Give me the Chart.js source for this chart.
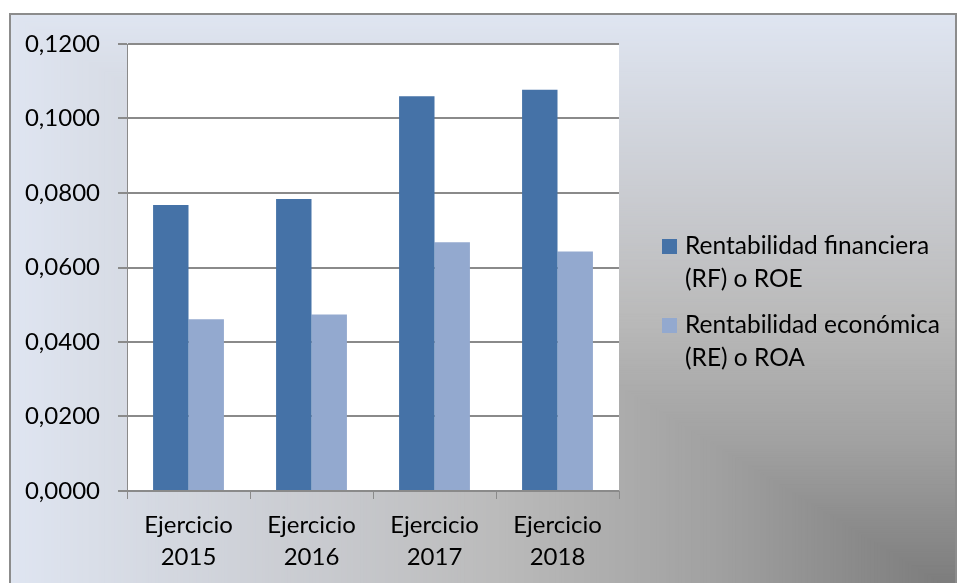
<!DOCTYPE html>
<html>
<head>
<meta charset="utf-8">
<script src="https://cdn.jsdelivr.net/npm/chart.js@4"></script>
<style>
html,body{margin:0;padding:0;background:#fff;}
#wrap{width:957px;height:583px;position:relative;}
</style>
</head>
<body>
<div id="wrap"><canvas id="c" width="957" height="583"></canvas></div>
<script>
const categories = [["Ejercicio","2015"],["Ejercicio","2016"],["Ejercicio","2017"],["Ejercicio","2018"]];
const seriesRF = [0.0768, 0.0784, 0.1060, 0.1077];
const seriesRE = [0.0461, 0.0474, 0.0668, 0.0643];
const seriesNames = [["Rentabilidad financiera","(RF) o ROE"],["Rentabilidad económica","(RE) o ROA"]];
const yTickLabels = ["0,0000","0,0200","0,0400","0,0600","0,0800","0,1000","0,1200"];

const FONT = "Lato";
const colors = ["#4572a7", "#93a9cf"];

function lerp(a,b,t){return a+(b-a)*t;}
function hex(h){return [parseInt(h.slice(1,3),16),parseInt(h.slice(3,5),16),parseInt(h.slice(5,7),16)];}
const gStops = [[0,"#7a7a7a"],[0.25,"#a0a0a0"],[0.48,"#bababa"],[0.68,"#c9cbd0"],[1,"#dfe5f1"]];
function gColor(t){
  for(let i=0;i<gStops.length-1;i++){
    const [t0,c0]=gStops[i],[t1,c1]=gStops[i+1];
    if(t<=t1){const u=(t-t0)/(t1-t0);const a=hex(c0),b=hex(c1);
      return `rgb(${Math.round(lerp(a[0],b[0],u))},${Math.round(lerp(a[1],b[1],u))},${Math.round(lerp(a[2],b[2],u))})`;}
  }
  return gStops[gStops.length-1][1];
}

const bgPlugin = {
  id:'bg',
  beforeDraw(chart){
    const ctx=chart.ctx;
    const L=10,T=14,R=956,B=592;
    ctx.save();
    ctx.beginPath();ctx.rect(L,T,R-L,B-T);ctx.clip();
    const W=R-L,H=B-T,N=300;
    for(let i=N;i>=1;i--){
      const t=i/N;
      ctx.fillStyle=gColor(t);
      ctx.fillRect(R-t*W,B-t*H,t*W+1,t*H+1);
    }
    ctx.restore();
    ctx.save();
    ctx.strokeStyle="#8c8c8c";ctx.lineWidth=2;
    ctx.strokeRect(L,T,R-L,B-T);
    const a=chart.chartArea;
    ctx.fillStyle="#ffffff";
    ctx.fillRect(a.left,a.top,a.right-a.left,a.bottom-a.top);
    ctx.restore();
  }
};

const legendPlugin = {
  id:'customLegend',
  afterDraw(chart){
    const ctx=chart.ctx;
    ctx.save();
    ctx.font=`24.5px ${FONT}`;
    ctx.textBaseline="alphabetic";
    const startY=[254,333];
    chart.data.datasets.forEach((ds,i)=>{
      const y=startY[i];
      ctx.fillStyle=ds.backgroundColor;
      ctx.fillRect(662,y-15,15,15);
      ctx.fillStyle="#000";
      ds.lines.forEach((ln,j)=>{ctx.fillText(ln,685,y+j*33);});
    });
    ctx.restore();
  }
};

new Chart(document.getElementById('c'),{
  type:'bar',
  data:{
    labels:categories,
    datasets:[
      {label:seriesNames[0].join(' '),lines:seriesNames[0],data:seriesRF,backgroundColor:colors[0],barPercentage:1,categoryPercentage:0.576},
      {label:seriesNames[1].join(' '),lines:seriesNames[1],data:seriesRE,backgroundColor:colors[1],barPercentage:1,categoryPercentage:0.576}
    ]
  },
  options:{
    responsive:false,
    animation:false,
    devicePixelRatio:1,
    layout:{padding:{left:0,top:44,right:338,bottom:0}},
    plugins:{legend:{display:false},tooltip:{enabled:false},title:{display:false}},
    scales:{
      y:{
        min:0,max:0.12,
        ticks:{stepSize:0.02,color:"#000",font:{family:FONT,size:24},padding:18,
          callback:(v,i)=>yTickLabels[i]},
        grid:{color:"#8a8a8a",lineWidth:2,tickLength:9,drawTicks:true},
        border:{display:true,color:"#8a8a8a",width:1},
        afterFit(s){s.width=127;}
      },
      x:{
        ticks:{color:"#000",font:{family:FONT,size:24,lineHeight:1.3},padding:11,maxRotation:0,autoSkip:false},
        grid:{display:true,drawOnChartArea:false,drawTicks:true,tickLength:8,color:"#8a8a8a",lineWidth:1,offset:true},
        border:{display:true,color:"#8a8a8a",width:1},
        afterFit(s){s.height=92;}
      }
    }
  },
  plugins:[bgPlugin,legendPlugin]
});
</script>
</body>
</html>
